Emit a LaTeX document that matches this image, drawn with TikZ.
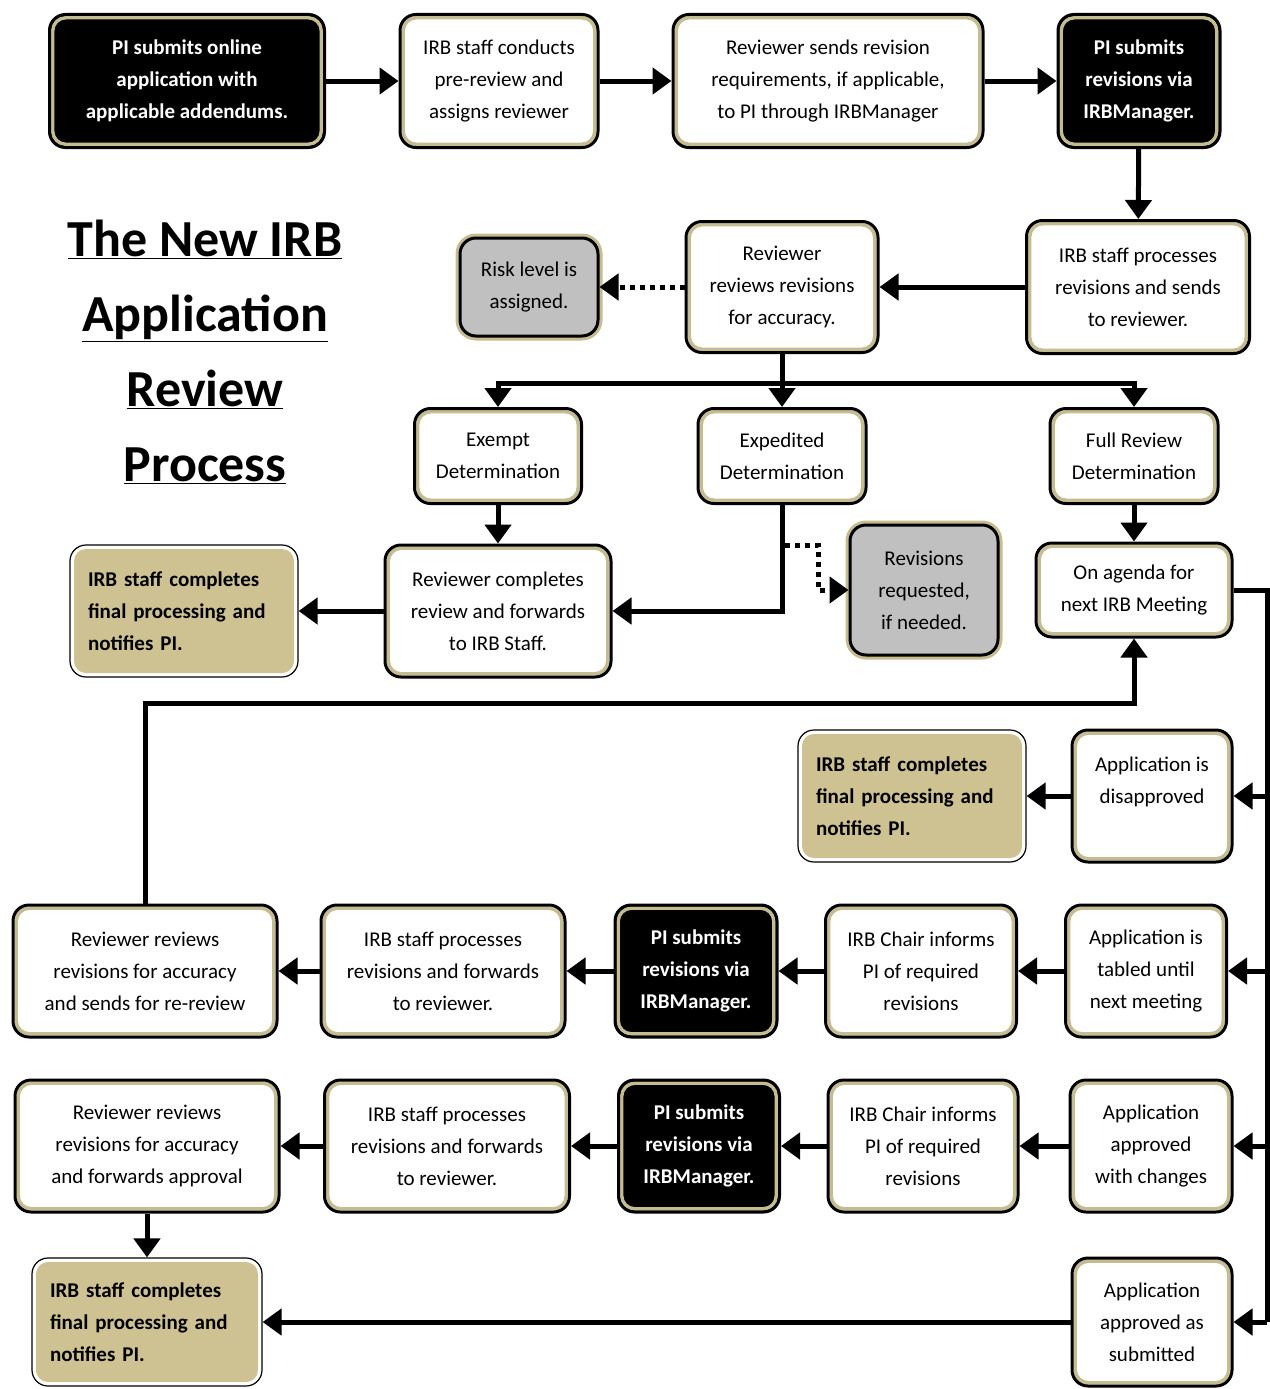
\documentclass[tikz,border=0pt]{standalone}
\usepackage{fontspec}
\setmainfont{Carlito}
\usepackage{xcolor}
\usepackage{tikz}
\usetikzlibrary{arrows.meta}
\definecolor{rimtan}{RGB}{198,188,146}
\definecolor{filltan}{RGB}{206,194,146}
\definecolor{boxgray}{RGB}{192,192,192}
\tikzset{
  dims/.style 2 args={minimum width=#1pt, minimum height=#2pt},
  box/.style={rounded corners=16pt, align=center, inner sep=4pt,
              font=\fontsize{21}{32}\selectfont},
  tanrim/.style={path picture={\draw[rimtan, line width=3.5pt, rounded corners=13pt]
      ([shift={(3.2pt,3.2pt)}]path picture bounding box.south west) rectangle
      ([shift={(-3.2pt,-3.2pt)}]path picture bounding box.north east);}},
  whitebox/.style={box, draw=black, line width=3pt, fill=white, tanrim},
  blackbox/.style={box, draw=black, line width=3pt, fill=black, text=white, tanrim,
              font=\fontsize{21}{32}\selectfont\bfseries},
  graybox/.style={box, draw=black, line width=3pt, fill=boxgray,
              preaction={draw=rimtan, line width=9pt}},
  tanbox/.style={box, draw=black, line width=1.2pt, fill=white, align=left,
              inner xsep=18pt, font=\fontsize{21}{32}\selectfont\bfseries,
              path picture={\fill[filltan, rounded corners=12pt]
      ([shift={(4pt,4pt)}]path picture bounding box.south west) rectangle
      ([shift={(-4pt,-4pt)}]path picture bounding box.north east);}},
  flow/.style={line width=5pt, -{Triangle[length=19pt,width=26pt]}},
  dotflow/.style={flow, dash pattern=on 5pt off 5pt},
}
\begin{document}
\begin{tikzpicture}[x=1pt, y=-1pt]
  \useasboundingbox (0,0) rectangle (1269,1389);

  \node[font=\fontsize{52}{75}\selectfont\bfseries, align=center] (title) at (205,352)
    {\underline{The New IRB}\\\underline{Application}\\\underline{Review}\\\underline{Process}};

  \node[blackbox, dims={275}{133}] (submit)    at (187,81)  {PI submits online\\application with\\applicable addendums.};
  \node[whitebox, dims={198}{133}] (prereview) at (499,81)  {IRB staff conducts\\pre-review and\\assigns reviewer};
  \node[whitebox, dims={310}{133}] (revreq)    at (828,81)  {Reviewer sends revision\\requirements, if applicable,\\to PI through IRBManager};
  \node[blackbox, dims={162}{133}] (piresub)   at (1139,81) {PI submits\\revisions via\\IRBManager.};

  \node[whitebox, dims={223}{133}] (staffproc) at (1138,287) {IRB staff processes\\revisions and sends\\to reviewer.};
  \node[whitebox, dims={192}{131}] (revcheck)  at (782,287)  {Reviewer\\reviews revisions\\for accuracy.};
  \node[graybox,  dims={138}{98}]  (risk)      at (529,287)  {Risk level is\\assigned.};

  \node[whitebox, dims={167}{95}] (exempt)    at (498,456)  {Exempt\\Determination};
  \node[whitebox, dims={168}{95}] (expedited) at (782,456)  {Expedited\\Determination};
  \node[whitebox, dims={168}{95}] (fullrev)   at (1134,456) {Full Review\\Determination};

  \node[tanbox, dims={228}{132}, text width=192pt] (finalA) at (184,611) {IRB staff completes\\final processing and\\notifies PI.};
  \node[whitebox, dims={226}{132}] (revdone)   at (498,611)  {Reviewer completes\\review and forwards\\to IRB Staff.};
  \node[graybox,  dims={148}{130}] (revasked)  at (924,590)  {Revisions\\requested,\\if needed.};
  \node[whitebox, dims={196}{94}]  (agenda)    at (1134,590) {On agenda for\\next IRB Meeting};

  \node[tanbox, dims={228}{132}, text width=192pt] (finalB) at (912,796) {IRB staff completes\\final processing and\\notifies PI.};
  \node[whitebox, dims={160}{132}] (disappr)   at (1152,796) {Application is\\disapproved\\\mbox{}};

  \node[whitebox, dims={264}{132}] (rereview)  at (145,971)  {Reviewer reviews\\revisions for accuracy\\and sends for re-review};
  \node[whitebox, dims={244}{132}] (staffB)    at (443,971)  {IRB staff processes\\revisions and forwards\\to reviewer.};
  \node[blackbox, dims={162}{132}] (piB)       at (696,971)  {PI submits\\revisions via\\IRBManager.};
  \node[whitebox, dims={191}{132}] (chairB)    at (921,971)  {IRB Chair informs\\PI of required\\revisions};
  \node[whitebox, dims={161}{132}] (tabled)    at (1146,971) {Application is\\tabled until\\next meeting};

  \node[whitebox, dims={264}{132}] (fwdappr)   at (147,1146)  {Reviewer reviews\\revisions for accuracy\\and forwards approval};
  \node[whitebox, dims={245}{132}] (staffC)    at (447,1146)  {IRB staff processes\\revisions and forwards\\to reviewer.};
  \node[blackbox, dims={161}{132}] (piC)       at (699,1146)  {PI submits\\revisions via\\IRBManager.};
  \node[whitebox, dims={190}{132}] (chairC)    at (923,1146)  {IRB Chair informs\\PI of required\\revisions};
  \node[whitebox, dims={162}{132}] (apprchg)   at (1151,1146) {Application\\approved\\with changes};

  \node[tanbox, dims={230}{128}, text width=194pt] (finalC) at (147,1322) {IRB staff completes\\final processing and\\notifies PI.};
  \node[whitebox, dims={160}{128}] (apprsub)   at (1152,1322) {Application\\approved as\\submitted};

  \coordinate (split)   at (782,383);
  \coordinate (dotfrom) at (785,545);
  \coordinate (railtop) at (1267,590);
  \coordinate (railbot) at (1267,1322);
  \coordinate (backup)  at (1134,703);

  \draw[flow] (submit) -- (prereview);
  \draw[flow] (prereview) -- (revreq);
  \draw[flow] (revreq) -- (piresub);
  \draw[flow] (piresub) -- (staffproc);
  \draw[flow] (staffproc) -- (revcheck);
  \draw[dotflow] (revcheck) -- (risk);
  \draw[line width=5pt] (revcheck.south) -- (split);
  \draw[flow] (split) -- (expedited.north);
  \draw[flow] (split) -| (exempt.north);
  \draw[flow] (split) -| (fullrev.north);
  \draw[flow] (exempt) -- (revdone);
  \draw[flow] (expedited.south) |- (revdone.east);
  \draw[dotflow] (dotfrom) -- (818,545) -- (818,590) -- (revasked.west);
  \draw[flow] (fullrev) -- (agenda);
  \draw[flow] (revdone) -- (finalA);
  \draw[line width=5pt] (agenda.east) -- (railtop) -- (railbot);
  \draw[flow] (disappr.east -| railtop) -- (disappr.east);
  \draw[flow] (disappr) -- (finalB);
  \draw[flow] (tabled.east -| railtop) -- (tabled.east);
  \draw[flow] (tabled) -- (chairB);
  \draw[flow] (chairB) -- (piB);
  \draw[flow] (piB) -- (staffB);
  \draw[flow] (staffB) -- (rereview);
  \draw[flow] (rereview.north) |- (backup) -- (agenda.south);
  \draw[flow] (apprchg.east -| railtop) -- (apprchg.east);
  \draw[flow] (apprchg) -- (chairC);
  \draw[flow] (chairC) -- (piC);
  \draw[flow] (piC) -- (staffC);
  \draw[flow] (staffC) -- (fwdappr);
  \draw[flow] (fwdappr) -- (finalC);
  \draw[flow] (apprsub.east -| railtop) -- (apprsub.east);
  \draw[flow] (apprsub) -- (finalC);
\end{tikzpicture}
\end{document}
